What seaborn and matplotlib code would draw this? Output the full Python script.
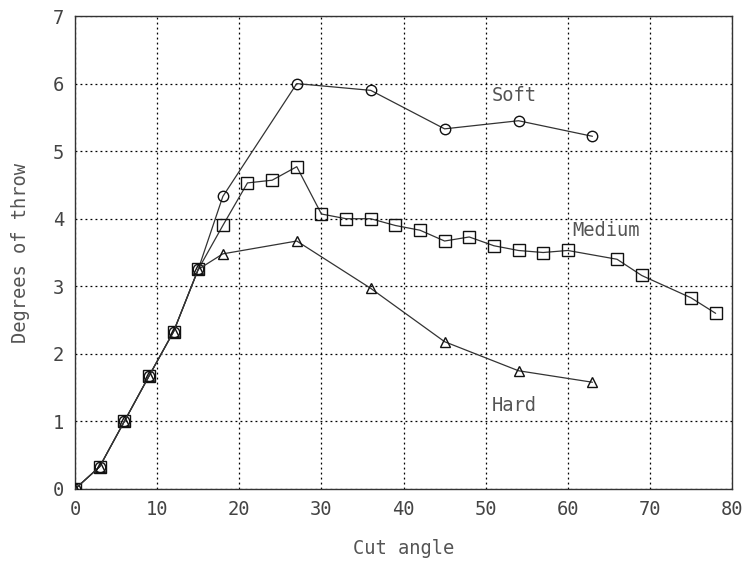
import pandas as pd
import matplotlib.pyplot as plt
import seaborn as sns

# Values
soft_x = [0, 3, 6, 9, 12, 15, 18, 27, 36, 45, 54, 63]
soft_y = [0, 0.33, 1.0, 1.67, 2.33, 3.25, 4.33, 6.0, 5.9, 5.33, 5.45, 5.22]

medium_x = [0, 3, 6, 9, 12, 15, 18, 21, 24, 27, 30, 33, 36, 39, 42, 45, 48,
            51, 54, 57, 60, 66, 69, 75, 78]
medium_y = [0, 0.33, 1.0, 1.67, 2.33, 3.25, 3.9, 4.53, 4.57, 4.77, 4.07, 4.0,
            4.0, 3.9, 3.83, 3.67, 3.73, 3.6, 3.53, 3.5, 3.53, 3.4, 3.16, 2.83, 2.6]

hard_x = [0, 3, 6, 9, 12, 15, 18, 27, 36, 45, 54, 63]
hard_y = [0, 0.33, 1.0, 1.67, 2.33, 3.25, 3.48, 3.67, 2.97, 2.18, 1.75, 1.58]

labels = {'Soft': (50.8, 5.83), 'Medium': (60.6, 3.83), 'Hard': (50.8, 1.24)}

sns.set_style('white')
plt.rcParams['font.family'] = ['DejaVu Sans Mono']

fig = plt.figure(figsize=(7.45, 5.62), dpi=100)
ax = fig.add_axes([0.1007, 0.1299, 0.8819, 0.8416])

series = [(soft_x, soft_y, 'o', 7.5), (medium_x, medium_y, 's', 8), (hard_x, hard_y, '^', 7)]
for xs, ys, mk, ms in series:
    df = pd.DataFrame({'x': xs, 'y': ys})
    sns.lineplot(data=df, x='x', y='y', ax=ax, color='#333333', linewidth=0.9,
                 marker=mk, markersize=ms,
                 markerfacecolor='none', markeredgecolor='#111111',
                 markeredgewidth=1.0, zorder=3)

for name, (tx, ty) in labels.items():
    ax.text(tx, ty, name, fontsize=13.5, color='#555555', va='center', ha='left')

ax.set_xlim(0, 80)
ax.set_ylim(0, 7)
ax.set_xticks(range(0, 81, 10))
ax.set_yticks(range(0, 8))
ax.grid(True, color='black', linestyle=(0, (1.5, 2.5)), linewidth=0.9)
ax.tick_params(length=0, labelsize=13.5, labelcolor='#444444', pad=8)
for s in ax.spines.values():
    s.set_color('#333333')
    s.set_linewidth(1.0)

ax.set_xlabel('Cut angle', fontsize=13.5, color='#555555', labelpad=14)
ax.set_ylabel('Degrees of throw', fontsize=13.5, color='#555555', labelpad=16)

fig.savefig('out.png', dpi=100)
